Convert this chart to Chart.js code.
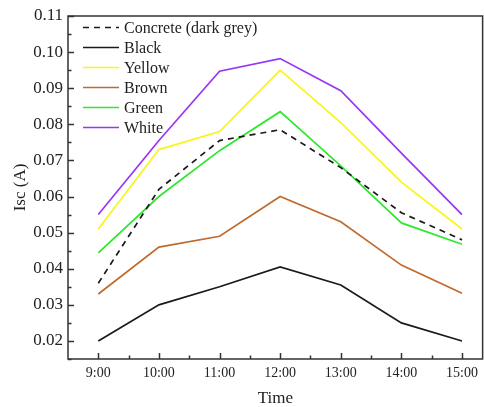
<!DOCTYPE html>
<html>
<head>
<meta charset="utf-8">
<script src="https://cdn.jsdelivr.net/npm/chart.js@4/dist/chart.umd.min.js"></script>
<style>
  html, body { margin: 0; padding: 0; background: #fff; }
  #wrap { width: 484px; height: 407px; }
</style>
</head>
<body>
<div id="wrap"><canvas id="c" width="484" height="407"></canvas></div>
<script>
// Hours of measurement and their labels
const hours = [9, 10, 11, 12, 13, 14, 15];
const hourLabels = ['9:00', '10:00', '11:00', '12:00', '13:00', '14:00', '15:00'];

// Short-circuit current (A) per surface colour
const concrete = [0.036, 0.062, 0.0755, 0.0785, 0.068, 0.0555, 0.048];
const black    = [0.020, 0.030, 0.035, 0.0405, 0.0355, 0.025, 0.020];
const yellow   = [0.051, 0.073, 0.078, 0.095, 0.0805, 0.064, 0.051];
const brown    = [0.033, 0.046, 0.049, 0.060, 0.053, 0.041, 0.0332];
const green    = [0.0444, 0.060, 0.0727, 0.0835, 0.0685, 0.0527, 0.0468];
const white    = [0.055, 0.0755, 0.0947, 0.0982, 0.0893, 0.072, 0.055];

const seriesNames = ['Concrete (dark grey)', 'Black', 'Yellow', 'Brown', 'Green', 'White'];

// Y axis tick values
const yTicks = [0.02, 0.03, 0.04, 0.05, 0.06, 0.07, 0.08, 0.09, 0.10, 0.11];

const SERIF = '"Liberation Serif", "Times New Roman", serif';
const FRAME = '#333333';

function pts(vals) { return vals.map((v, i) => ({ x: hours[i], y: v })); }

const styles = [
  { color: '#1a1a1a', dash: [6, 5] },
  { color: '#1a1a1a', dash: [] },
  { color: '#f9f516', dash: [] },
  { color: '#bf6a2e', dash: [] },
  { color: '#2ee82e', dash: [] },
  { color: '#9a35f5', dash: [] }
];
const seriesValues = [concrete, black, yellow, brown, green, white];

const datasets = seriesValues.map((vals, i) => ({
  label: seriesNames[i],
  data: pts(vals),
  borderColor: styles[i].color,
  backgroundColor: styles[i].color,
  borderDash: styles[i].dash,
  borderWidth: 1.7,
  pointRadius: 0,
  tension: 0,
  fill: false
}));

// White page, closed frame, inward ticks and the in-plot legend
const decor = {
  id: 'decor',
  beforeDraw(chart) {
    const ctx = chart.ctx;
    ctx.save();
    ctx.fillStyle = '#fff';
    ctx.fillRect(0, 0, chart.width, chart.height);
    ctx.restore();
  },
  afterDatasetsDraw(chart) {
    const { ctx, chartArea: a, scales: { x, y } } = chart;
    ctx.save();
    ctx.strokeStyle = FRAME;
    ctx.lineWidth = 1.5;
    // inward ticks on x axis
    ctx.beginPath();
    hours.forEach(h => {
      const px = Math.round(x.getPixelForValue(h)) + 0.5;
      ctx.moveTo(px, a.bottom); ctx.lineTo(px, a.bottom - 6);
      if (h < hours[hours.length - 1]) {
        const pm = Math.round(x.getPixelForValue(h + 0.5)) + 0.5;
        ctx.moveTo(pm, a.bottom); ctx.lineTo(pm, a.bottom - 3.5);
      }
    });
    // inward ticks on y axis
    yTicks.forEach(v => {
      const py = Math.round(y.getPixelForValue(v)) + 0.5;
      ctx.moveTo(a.left, py); ctx.lineTo(a.left + 6, py);
      const pm = Math.round(y.getPixelForValue(v - 0.005)) + 0.5;
      ctx.moveTo(a.left, pm); ctx.lineTo(a.left + 3.5, pm);
    });
    ctx.stroke();
    // frame
    ctx.strokeRect(a.left, a.top, a.right - a.left, a.bottom - a.top);

    // legend
    ctx.font = '16px ' + SERIF;
    ctx.textBaseline = 'middle';
    ctx.textAlign = 'left';
    chart.data.datasets.forEach((ds, i) => {
      const yy = a.top + 11.5 + i * 20;
      ctx.beginPath();
      ctx.strokeStyle = ds.borderColor;
      ctx.lineWidth = 1.7;
      ctx.setLineDash(ds.borderDash || []);
      ctx.moveTo(a.left + 15, yy);
      ctx.lineTo(a.left + 51, yy);
      ctx.stroke();
      ctx.setLineDash([]);
      ctx.fillStyle = '#222';
      ctx.fillText(ds.label, a.left + 56, yy + 1);
    });
    ctx.restore();
  }
};

new Chart(document.getElementById('c'), {
  type: 'line',
  data: { datasets },
  options: {
    responsive: false,
    animation: false,
    devicePixelRatio: 1,
    layout: { padding: { top: 16, right: 1, left: 0, bottom: 0 } },
    plugins: { legend: { display: false }, tooltip: { enabled: false } },
    scales: {
      x: {
        type: 'linear',
        min: 8.5,
        max: 15.34,
        afterBuildTicks(scale) { scale.ticks = hours.map(h => ({ value: h })); },
        afterFit(scale) { scale.height = 48; },
        grid: { display: false, drawTicks: false },
        border: { display: false },
        ticks: {
          padding: 6,
          color: '#222',
          font: { family: SERIF, size: 14 },
          maxRotation: 0,
          callback: v => hourLabels[hours.indexOf(v)]
        },
        title: {
          display: true,
          text: 'Time',
          color: '#222',
          font: { family: SERIF, size: 17, lineHeight: 1 },
          padding: { top: 0, bottom: 0 }
        }
      },
      y: {
        min: 0.015,
        max: 0.11,
        afterBuildTicks(scale) { scale.ticks = yTicks.map(v => ({ value: v })); },
        afterFit(scale) { scale.width = 68; },
        grid: { display: false, drawTicks: false },
        border: { display: false },
        ticks: {
          padding: 5,
          color: '#222',
          font: { family: SERIF, size: 17 },
          callback: v => v.toFixed(2)
        },
        title: {
          display: true,
          text: 'Isc (A)',
          color: '#222',
          font: { family: SERIF, size: 17, lineHeight: 1 },
          padding: { top: 12, bottom: 0 }
        }
      }
    }
  },
  plugins: [decor]
});
</script>
</body>
</html>
